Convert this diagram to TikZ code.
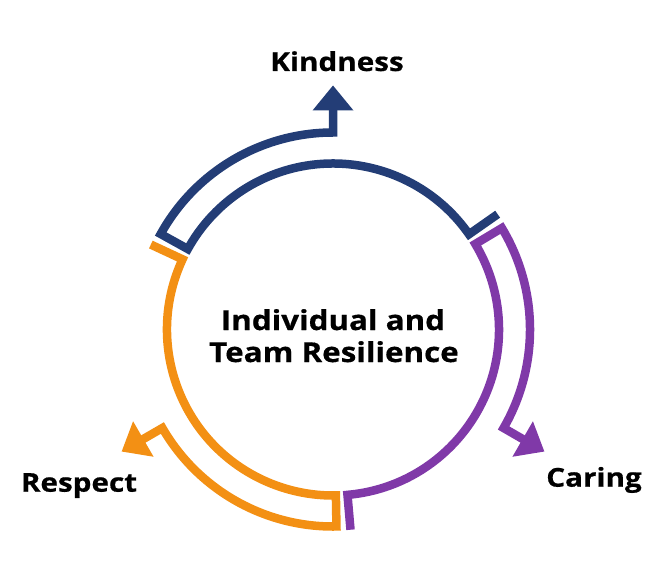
\documentclass[tikz,border=0pt]{standalone}
\usepackage{fontspec}
\setmainfont{Open Sans}
\newfontfamily\widefam{Open Sans}[FakeStretch=1.14, FakeBold=0.6]
\definecolor{kblue}{HTML}{233D76}
\definecolor{kpurple}{HTML}{8039A8}
\definecolor{korange}{HTML}{F39014}
\tikzset{
  band/.style={line width=8.5pt, miter limit=10, line join=miter, line cap=butt},
  lbl/.style={font=\widefam\fontsize{26}{30}\selectfont\bfseries, anchor=base, inner sep=0pt},
  ctr/.style={font=\widefam\fontsize{27.5}{32}\selectfont\bfseries, anchor=base, inner sep=0pt}
}
\newcommand{\resshape}[2]{%
  \begin{scope}[shift={(333pt,249.5pt)}, rotate=#1]
    \draw[band, #2] (35:201pt) -- (35:166pt)
      arc[start angle=35, end angle=151, radius=166pt]
      -- (151:197pt)
      arc[start angle=151, end angle=90, radius=197pt]
      -- (0pt,221pt);
    \fill[#2] (-20.5pt,219pt) -- (20.5pt,219pt) -- (0pt,244pt) -- cycle;
  \end{scope}}
\begin{document}
\begin{tikzpicture}[x=1pt,y=1pt]
  \useasboundingbox (0,0) rectangle (652,579);
  \resshape{0}{kblue}
  \resshape{120}{korange}
  \resshape{240}{kpurple}
  \node[lbl] (kind) at (337,508) {Kindness};
  \node[lbl] (car) at (594,92.3) {Caring};
  \node[lbl] (resp) at (79,87.3) {Respect};
  \node[ctr] (ind) at (333,249) {Individual and};
  \node[ctr] (team) at (334,217) {Team Resilience};
\end{tikzpicture}
\end{document}
